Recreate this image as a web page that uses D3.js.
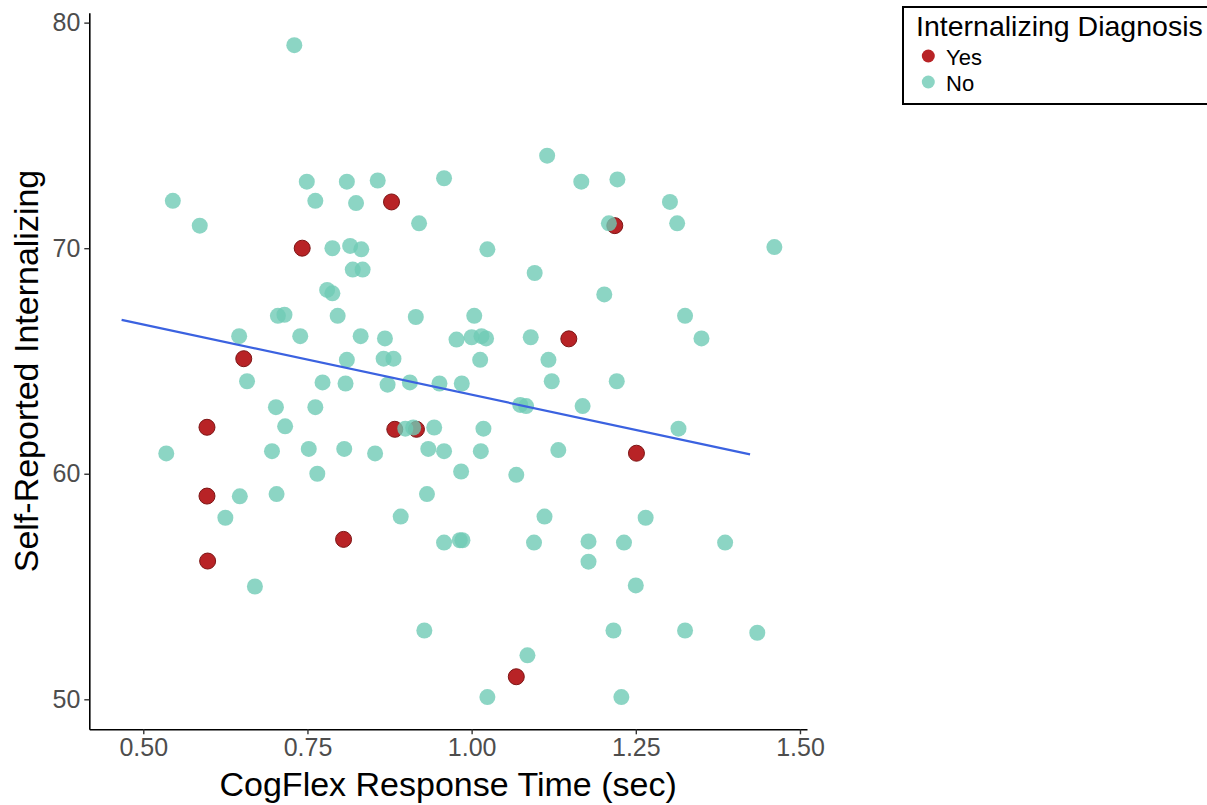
<!DOCTYPE html>
<html>
<head>
<meta charset="utf-8">
<script src="https://cdn.jsdelivr.net/npm/d3@7"></script>
<style>
  body { margin: 0; background: #fff; }
  svg { display: block; font-family: "Liberation Sans", Arial, sans-serif; }
</style>
</head>
<body>
<div id="vis"></div>
<script>
// diagnosis = Yes
var yesX = [0.878, 0.742, 1.218, 1.148, 0.653, 0.597, 0.883, 0.916, 1.251, 0.597, 0.805, 0.598, 1.068];
var yesY = [72.05, 70.0, 71.0, 65.98, 65.1, 62.06, 61.97, 61.97, 60.91, 59.01, 57.09, 56.13, 51.0];

// diagnosis = No
var noX = [0.730, 0.545, 0.586, 0.749, 0.810, 0.857, 0.958, 0.762, 0.824, 0.920,
  0.788, 0.815, 0.832, 0.819, 0.834, 0.780, 0.788, 0.705, 0.715, 0.796,
  0.915, 1.004, 0.646, 0.739, 0.831, 0.868, 0.977, 1.000, 1.015, 1.022,
  0.810, 0.866, 0.881, 1.115, 1.167, 1.222, 1.302, 1.209, 1.313, 1.461,
  1.024, 1.096, 1.202, 1.325, 1.090, 1.350, 1.013, 1.117, 0.658, 0.773,
  0.808, 0.872, 0.906, 0.951, 0.985, 1.122, 1.221, 0.702, 0.762, 1.074,
  1.083, 1.169, 0.716, 0.899, 0.911, 0.943, 1.018, 1.315, 0.535, 0.696,
  0.752, 0.806, 0.853, 0.934, 0.958, 1.014, 1.132, 0.765, 0.984, 1.068,
  0.647, 0.703, 0.932, 0.625, 0.892, 1.111, 1.265, 0.958, 0.982, 0.986,
  1.095, 1.178, 1.232, 1.386, 1.178, 0.670, 1.250, 0.928, 1.216, 1.325,
  1.435, 1.085, 1.024, 1.228];
var noY = [79.0, 72.1, 71.0, 72.95, 72.95, 73.0, 73.1, 72.1, 72.0, 71.1,
  70.0, 70.1, 69.95, 69.05, 69.05, 68.15, 68.0, 67.0, 67.05, 67.0,
  66.95, 67.0, 66.1, 66.1, 66.1, 66.0, 65.95, 66.05, 66.1, 66.0,
  65.05, 65.1, 65.1, 74.1, 72.95, 73.05, 72.05, 71.1, 71.1, 70.05,
  69.95, 68.9, 67.95, 67.0, 66.05, 66.0, 65.05, 65.05, 64.1, 64.05,
  64.0, 63.95, 64.05, 64.0, 64.0, 64.1, 64.1, 62.95, 62.95, 63.05,
  63.0, 63.0, 62.1, 62.0, 62.05, 62.05, 62.0, 62.0, 60.9, 61.0,
  61.1, 61.1, 60.9, 61.1, 61.0, 61.0, 61.05, 60.0, 60.1, 59.95,
  59.0, 59.1, 59.1, 58.05, 58.1, 58.1, 58.05, 56.95, 57.05, 57.05,
  56.95, 57.0, 56.95, 56.95, 56.1, 55.0, 55.05, 53.05, 53.05, 53.05,
  52.95, 51.95, 50.1, 50.1];

// fitted line (lm) end points
var fitX = [0.467, 1.424];
var fitY = [66.82, 60.86];

var xTicks = [0.50, 0.75, 1.00, 1.25, 1.50];
var yTicks = [50, 60, 70, 80];

var groups = ['Yes', 'No'];

var width = 1207;
var height = 805;

var plot = { left: 89.3, right: 807, top: 12.7, bottom: 729.3 };

var x = d3.scaleLinear()
  .domain([0.4178, 1.5107])
  .range([plot.left, plot.right]);

var y = d3.scaleLinear()
  .domain([48.67, 80.44])
  .range([plot.bottom, plot.top]);

var fillColor = d3.scaleOrdinal()
  .domain(groups)
  .range(['#b82326', '#6fcab5']);

var svg = d3.select('#vis')
  .append('svg')
  .attr('width', width)
  .attr('height', height);

svg.append('rect')
  .attr('width', width)
  .attr('height', height)
  .attr('fill', '#fff');

function makeNodes(xs, ys, group) {
  return xs.map(function (d, i) { return { x: d, y: ys[i], group: group }; });
}

var nodes = makeNodes(yesX, yesY, 'Yes').concat(makeNodes(noX, noY, 'No'));

svg.selectAll('.dot')
  .data(nodes)
  .enter().append('circle')
  .attr('class', 'dot')
  .attr('cx', function (d) { return x(d.x); })
  .attr('cy', function (d) { return y(d.y); })
  .attr('r', 8)
  .attr('fill', function (d) { return fillColor(d.group); })
  .attr('fill-opacity', function (d) { return d.group === 'Yes' ? 1 : 0.8; })
  .attr('stroke', function (d) { return d.group === 'Yes' ? '#7d1515' : 'none'; })
  .attr('stroke-width', 1);

var line = d3.line()
  .x(function (d) { return x(d[0]); })
  .y(function (d) { return y(d[1]); });

svg.append('path')
  .datum(fitX.map(function (d, i) { return [d, fitY[i]]; }))
  .attr('d', line)
  .attr('fill', 'none')
  .attr('stroke', '#3b62e0')
  .attr('stroke-width', 2.2);

// axes
var xAxis = svg.append('g')
  .attr('transform', 'translate(0,' + plot.bottom + ')')
  .call(d3.axisBottom(x)
    .tickValues(xTicks)
    .tickFormat(d3.format('.2f'))
    .tickSize(5)
    .tickSizeOuter(0)
    .tickPadding(4));

var yAxis = svg.append('g')
  .attr('transform', 'translate(' + plot.left + ',0)')
  .call(d3.axisLeft(y)
    .tickValues(yTicks)
    .tickSize(5)
    .tickSizeOuter(0)
    .tickPadding(4));

[xAxis, yAxis].forEach(function (g) {
  g.select('.domain').attr('stroke', '#000').attr('stroke-width', 1.6);
  g.selectAll('.tick line').attr('stroke', '#333').attr('stroke-width', 1.4);
  g.selectAll('.tick text')
    .attr('fill', '#4d4d4d')
    .style('font-size', '25px')
    .style('font-family', '"Liberation Sans", Arial, sans-serif');
});

svg.append('text')
  .attr('x', (plot.left + plot.right) / 2)
  .attr('y', 796)
  .attr('text-anchor', 'middle')
  .style('font-size', '34px')
  .text('CogFlex Response Time (sec)');

svg.append('text')
  .attr('transform', 'translate(38,' + ((plot.top + plot.bottom) / 2) + ') rotate(-90)')
  .attr('text-anchor', 'middle')
  .style('font-size', '34px')
  .text('Self-Reported Internalizing');

// legend
var legend = svg.append('g');

legend.append('rect')
  .attr('x', 903)
  .attr('y', 7)
  .attr('width', 320)
  .attr('height', 97)
  .attr('fill', '#fff')
  .attr('stroke', '#000')
  .attr('stroke-width', 2);

legend.append('text')
  .attr('x', 916)
  .attr('y', 36)
  .style('font-size', '28.5px')
  .text('Internalizing Diagnosis');

var keys = legend.selectAll('.key')
  .data(groups)
  .enter().append('g')
  .attr('class', 'key')
  .attr('transform', function (d, i) { return 'translate(0,' + (i * 26) + ')'; });

keys.append('circle')
  .attr('cx', 928.3)
  .attr('cy', 56)
  .attr('r', 6.5)
  .attr('fill', function (d) { return fillColor(d); })
  .attr('fill-opacity', function (d) { return d === 'Yes' ? 1 : 0.8; });

keys.append('text')
  .attr('x', 946)
  .attr('y', 64.5)
  .style('font-size', '22px')
  .text(function (d) { return d; });
</script>
</body>
</html>
